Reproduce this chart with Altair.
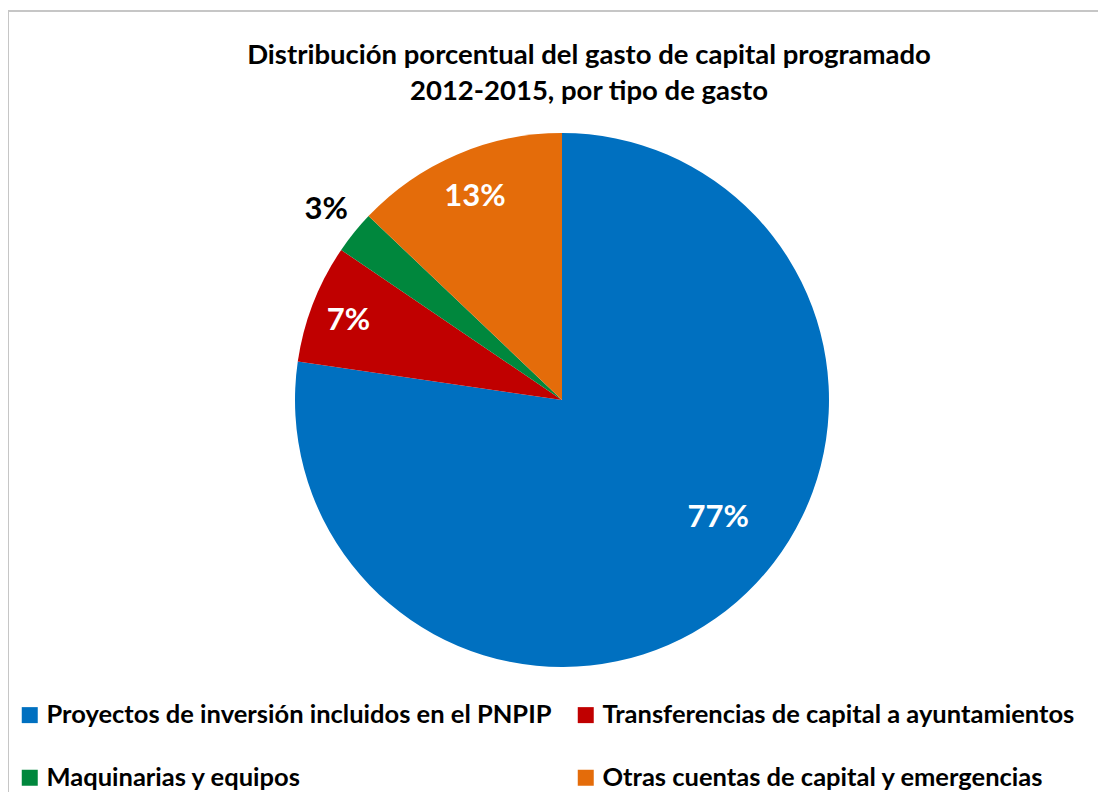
import altair as alt
import pandas as pd

categories = [
    "Proyectos de inversión incluidos en el PNPIP",
    "Transferencias de capital a ayuntamientos",
    "Maquinarias y equipos",
    "Otras cuentas de capital y emergencias",
]
values = [77.3, 7.2, 2.6, 12.9]
labels = ["77%", "7%", "3%", "13%"]
colors = ["#0070C0", "#C00000", "#00873D", "#E46C0A"]
order_idx = [0, 1, 2, 3]

df = pd.DataFrame({"cat": categories, "value": values, "label": labels, "idx": order_idx})

FONT = "Lato"
CX, CY, R = 554, 290, 267

color = alt.Color(
    "cat:N",
    scale=alt.Scale(domain=categories, range=colors),
    legend=alt.Legend(
        title=None,
        orient="none",
        direction="horizontal",
        legendX=9,
        legendY=592,
        columns=2,
        symbolType="square",
        symbolSize=256,
        symbolStrokeWidth=0,
        labelFont=FONT,
        labelFontWeight="bold",
        labelFontSize=25.5,
        labelColor="#000000",
        labelLimit=0,
        labelOffset=4,
        columnPadding=21,
        rowPadding=36,
        padding=0,
    ),
)

base = alt.Chart(df)

pie = base.mark_arc(outerRadius=R, stroke=None).encode(
    theta=alt.Theta("value:Q", stack=True),
    order=alt.Order("idx:Q"),
    color=color,
    x=alt.value(CX),
    y=alt.value(CY),
)

# label styling per slice: (radius, dx, dy, colour)
label_style = {
    0: (196, 28, -30, "#FFFFFF"),
    1: (229, 0, 4, "#FFFFFF"),
    2: (303, 0, 0, "#000000"),
    3: (221, 0, 0, "#FFFFFF"),
}

text_layers = []
for i, (rad, ddx, ddy, col) in label_style.items():
    t = base.mark_text(
        font=FONT, fontWeight="bold", fontSize=31, align="center", baseline="middle",
        radius=rad, dx=ddx, dy=ddy, color=col,
    ).encode(
        theta=alt.Theta("value:Q", stack=True),
        order=alt.Order("idx:Q"),
        text="label:N",
        opacity=alt.when(alt.datum.idx == i).then(alt.value(1)).otherwise(alt.value(0)),
        x=alt.value(CX),
        y=alt.value(CY),
    )
    text_layers.append(t)

frame = alt.Chart(pd.DataFrame({"k": [0]})).mark_rect(
    fill="transparent", stroke="#C6C6C6", strokeWidth=2
).encode(
    x=alt.value(0), x2=alt.value(3000), y=alt.value(-99), y2=alt.value(3000)
)

chart = alt.layer(frame, pie, *text_layers).properties(
    width=1090,
    height=682,
    background="#FFFFFF",
    autosize=alt.AutoSizeParams(type="none"),
    padding={"left": 0, "top": 102, "right": 0, "bottom": 0},
    title=alt.TitleParams(
        text=["Distribución porcentual del gasto de capital programado",
              "2012-2015, por tipo de gasto"],
        font=FONT,
        fontWeight="bold",
        fontSize=27.5,
        lineHeight=36,
        color="#000000",
        anchor="middle",
        frame="group",
        dx=36,
        offset=-95,
    ),
).configure_view(stroke="transparent", strokeWidth=0)

chart.save("out.html", embed_options={"renderer": "svg", "actions": False})
